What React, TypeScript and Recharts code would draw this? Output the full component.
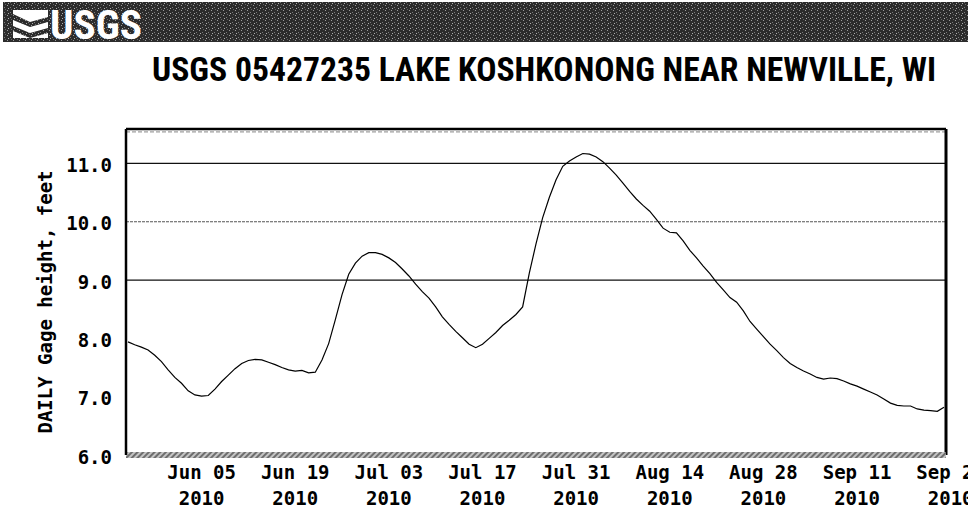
import { LineChart, Line, XAxis, YAxis, ReferenceLine } from "recharts"

// daily gage height, feet — May 25 2010 through Sep 24 2010
const gageHeight = [
  7.94, 7.89, 7.85, 7.8, 7.71, 7.6, 7.46, 7.33, 7.23, 7.1, 7.03,
  7.01, 7.02, 7.13, 7.26, 7.37, 7.48, 7.57, 7.62, 7.64, 7.63, 7.59, 7.55, 7.5, 7.46,
  7.44, 7.45, 7.41, 7.42, 7.63, 7.91, 8.32, 8.75, 9.1, 9.29, 9.41, 9.47, 9.47, 9.44,
  9.38, 9.3, 9.19, 9.07, 8.93, 8.8, 8.69, 8.54, 8.37, 8.24, 8.12, 8.01, 7.9, 7.84,
  7.9, 8.0, 8.1, 8.22, 8.31, 8.41, 8.54, 9.12, 9.62, 10.07, 10.42, 10.72, 10.95, 11.04,
  11.11, 11.17, 11.16, 11.11, 11.03, 10.92, 10.8, 10.66, 10.52, 10.39, 10.28, 10.18, 10.04, 9.89,
  9.82, 9.81, 9.67, 9.51, 9.38, 9.24, 9.11, 8.96, 8.83, 8.7, 8.62, 8.47, 8.29, 8.16,
  8.03, 7.9, 7.79, 7.67, 7.57, 7.5, 7.44, 7.39, 7.33, 7.3, 7.32, 7.31, 7.27, 7.22,
  7.18, 7.13, 7.08, 7.03, 6.96, 6.89, 6.85, 6.84, 6.84, 6.79, 6.77, 6.76, 6.75, 6.82,
]

// tick positions are days since May 25 2010
const tickDays = [11, 25, 39, 53, 67, 81, 95, 109, 123]
const tickLabels = ["Jun 05", "Jun 19", "Jul 03", "Jul 17", "Jul 31", "Aug 14", "Aug 28", "Sep 11", "Sep 25"]
const tickYears = ["2010", "2010", "2010", "2010", "2010", "2010", "2010", "2010", "2010"]
const yTicks = [6, 7, 8, 9, 10, 11]
const gridValues = [9, 10, 11]

const title = "USGS 05427235 LAKE KOSHKONONG NEAR NEWVILLE, WI"
const yLabel = "DAILY Gage height, feet"

const data = gageHeight.map((height, day) => ({ day, height }))

const mono = "'DejaVu Sans Mono', 'Liberation Mono', monospace"
const narrow = "'Liberation Sans Narrow', 'Arial Narrow', 'Roboto Condensed', 'Liberation Sans', sans-serif"

function XTick({ x, y, payload }: any) {
  const i = tickDays.indexOf(payload.value)
  return (
    <g>
      <text x={x} y={y} dy={22} textAnchor="middle" fontFamily={mono} fontWeight="bold" fontSize={19} fill="#000">
        {tickLabels[i]}
      </text>
      <text x={x} y={y} dy={48} textAnchor="middle" fontFamily={mono} fontWeight="bold" fontSize={19} fill="#000">
        {tickYears[i]}
      </text>
    </g>
  )
}

function YLabel({ viewBox }: any) {
  const cx = viewBox.x + 45
  const cy = viewBox.y + viewBox.height / 2 + 10
  return (
    <text
      x={cx}
      y={cy}
      transform={`rotate(-90, ${cx}, ${cy})`}
      textAnchor="middle"
      dominantBaseline="central"
      fontFamily={mono}
      fontWeight="bold"
      fontSize={19}
      fill="#000"
    >
      {yLabel}
    </text>
  )
}

function Banner() {
  return (
    <svg width={968} height={508} style={{ position: "absolute", left: 0, top: 0 }}>
      <defs>
        <pattern id="speckle" width="6" height="5" patternUnits="userSpaceOnUse">
          <rect width="6" height="5" fill="#2c2c2c" />
          <rect x="1" y="0" width="1" height="1" fill="#9a9a9a" />
          <rect x="4" y="2" width="1" height="1" fill="#7c7c7c" />
          <rect x="2" y="3" width="1" height="1" fill="#b0b0b0" />
          <rect x="5" y="4" width="1" height="1" fill="#666" />
        </pattern>
      </defs>
      <rect x={3} y={2} width={965} height={40} fill="url(#speckle)" />
      {/* wave mark */}
      <g fill="#fff">
        <polygon points="13,10 48,10 48,17 30,22 13,14" />
        <polygon points="13,20 30,27 48,22 48,28 30,33 13,26" />
        <polygon points="13,31 30,38 48,33 48,38 13,38" />
      </g>
      <text
        x={50}
        y={39}
        textLength={92}
        lengthAdjust="spacingAndGlyphs"
        fontFamily={narrow}
        fontWeight="bold"
        fontSize={40}
        fill="#fff"
      >
        USGS
      </text>
      <text
        x={544}
        y={81}
        textAnchor="middle"
        textLength={784}
        lengthAdjust="spacingAndGlyphs"
        fontFamily={narrow}
        fontWeight="bold"
        fontSize={34}
        fill="#000"
      >
        {title}
      </text>
    </svg>
  )
}

export default function App() {
  return (
    <div style={{ position: "absolute", left: 0, top: 0, width: 968, height: 508, background: "#fff", overflow: "hidden" }}>
      <Banner />
      <div style={{ position: "absolute", left: 0, top: 0 }}>
        <LineChart width={968} height={508} data={data} margin={{ top: 129, right: 22, bottom: 0, left: 0 }}>
          <defs>
            <pattern id="hatch" width="4" height="4" patternUnits="userSpaceOnUse" patternTransform="rotate(45)">
              <rect width="4" height="4" fill="#c4c4c4" />
              <rect width="2" height="4" fill="#6e6e6e" />
            </pattern>
          </defs>
          {gridValues.map((v) => (
            <ReferenceLine
              key={v}
              y={v}
              stroke={v === 10 ? "#555" : "#111"}
              strokeWidth={1.2}
              strokeDasharray={v === 10 ? "3 1" : undefined}
            />
          ))}
          <ReferenceLine y={11.54} stroke="#888" strokeWidth={1} strokeDasharray="4 2" />
          <ReferenceLine y={11.59} stroke="#000" strokeWidth={2.5} />
          <ReferenceLine x={122.3} stroke="#000" strokeWidth={3} />
          <XAxis
            type="number"
            dataKey="day"
            domain={[-0.3, 122.3]}
            ticks={tickDays}
            interval={0}
            height={53}
            tick={<XTick />}
            tickLine={false}
            tickSize={0}
            axisLine={{ stroke: "url(#hatch)", strokeWidth: 6 }}
            allowDataOverflow
          />
          <YAxis
            type="number"
            domain={[6, 11.59]}
            ticks={yTicks}
            width={126}
            tickFormatter={(v: number) => v.toFixed(1)}
            tick={{ fontFamily: mono, fontWeight: "bold", fontSize: 19, fill: "#000", dy: 2 }}
            tickLine={false}
            tickSize={4}
            tickMargin={10}
            axisLine={{ stroke: "#000", strokeWidth: 2.5 }}
            allowDataOverflow
            label={<YLabel />}
          />
          <Line
            type="linear"
            dataKey="height"
            stroke="#000"
            strokeWidth={1.2}
            dot={false}
            isAnimationActive={false}
          />
        </LineChart>
      </div>
    </div>
  )
}
